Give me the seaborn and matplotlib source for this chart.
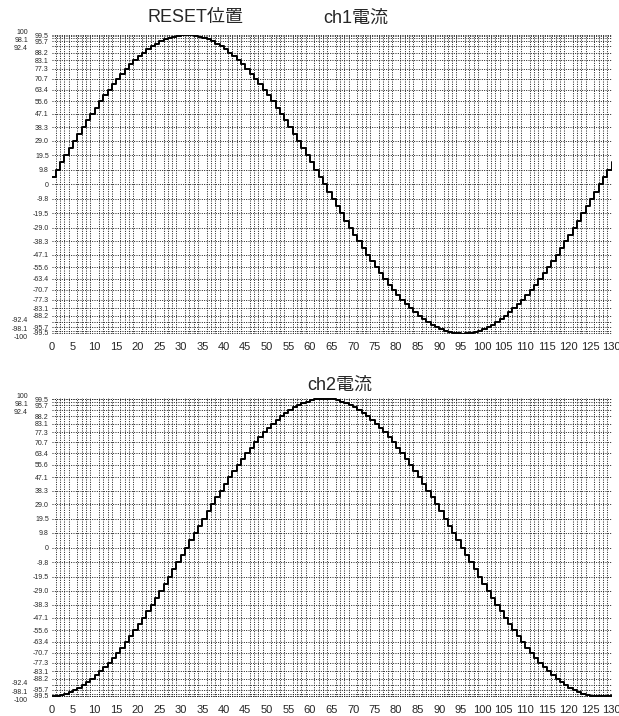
import numpy as np
import pandas as pd
import matplotlib
matplotlib.use("Agg")
import matplotlib.pyplot as plt
import matplotlib.transforms as mtransforms
import seaborn as sns

# ---- data (step value at each x, 0..130) ----
x_vals = list(range(0, 131))

ch1 = [4.9, 9.8, 14.7, 19.5, 24.3, 29.0, 33.7, 38.3, 42.8, 47.1, 51.4, 55.6, 59.6, 63.4, 67.2, 70.7,
       74.1, 77.3, 80.3, 83.1, 85.8, 88.2, 90.4, 92.4, 94.2, 95.7, 97.0, 98.1, 98.9, 99.5, 99.9, 100,
       99.9, 99.5, 98.9, 98.1, 97.0, 95.7, 94.2, 92.4, 90.4, 88.2, 85.8, 83.1, 80.3, 77.3, 74.1, 70.7,
       67.2, 63.4, 59.6, 55.6, 51.4, 47.1, 42.8, 38.3, 33.7, 29.0, 24.3, 19.5, 14.7, 9.8, 4.9, 0,
       -4.9, -9.8, -14.7, -19.5, -24.3, -29.0, -33.7, -38.3, -42.8, -47.1, -51.4, -55.6, -59.6, -63.4, -67.2, -70.7,
       -74.1, -77.3, -80.3, -83.1, -85.8, -88.2, -90.4, -92.4, -94.2, -95.7, -97.0, -98.1, -98.9, -99.5, -99.9, -100,
       -99.9, -99.5, -98.9, -98.1, -97.0, -95.7, -94.2, -92.4, -90.4, -88.2, -85.8, -83.1, -80.3, -77.3, -74.1, -70.7,
       -67.2, -63.4, -59.6, -55.6, -51.4, -47.1, -42.8, -38.3, -33.7, -29.0, -24.3, -19.5, -14.7, -9.8, -4.9, 0,
       4.9, 9.8, 14.7]

ch2 = [-99.9, -99.5, -98.9, -98.1, -97.0, -95.7, -94.2, -92.4, -90.4, -88.2, -85.8, -83.1, -80.3, -77.3, -74.1, -70.7,
       -67.2, -63.4, -59.6, -55.6, -51.4, -47.1, -42.8, -38.3, -33.7, -29.0, -24.3, -19.5, -14.7, -9.8, -4.9, 0,
       4.9, 9.8, 14.7, 19.5, 24.3, 29.0, 33.7, 38.3, 42.8, 47.1, 51.4, 55.6, 59.6, 63.4, 67.2, 70.7,
       74.1, 77.3, 80.3, 83.1, 85.8, 88.2, 90.4, 92.4, 94.2, 95.7, 97.0, 98.1, 98.9, 99.5, 99.9, 100,
       99.9, 99.5, 98.9, 98.1, 97.0, 95.7, 94.2, 92.4, 90.4, 88.2, 85.8, 83.1, 80.3, 77.3, 74.1, 70.7,
       67.2, 63.4, 59.6, 55.6, 51.4, 47.1, 42.8, 38.3, 33.7, 29.0, 24.3, 19.5, 14.7, 9.8, 4.9, 0,
       -4.9, -9.8, -14.7, -19.5, -24.3, -29.0, -33.7, -38.3, -42.8, -47.1, -51.4, -55.6, -59.6, -63.4, -67.2, -70.7,
       -74.1, -77.3, -80.3, -83.1, -85.8, -88.2, -90.4, -92.4, -94.2, -95.7, -97.0, -98.1, -98.9, -99.5, -99.9, -100,
       -99.9, -99.5, -98.9]

inner_ticks = [99.5, 95.7, 88.2, 83.1, 77.3, 70.7, 63.4, 55.6, 47.1, 38.3, 29.0, 19.5, 9.8, 0,
               -9.8, -19.5, -29.0, -38.3, -47.1, -55.6, -63.4, -70.7, -77.3, -83.1, -88.2, -95.7, -99.5]
inner_labels = ["99.5", "95.7", "88.2", "83.1", "77.3", "70.7", "63.4", "55.6", "47.1", "38.3", "29.0",
                "19.5", "9.8", "0", "-9.8", "-19.5", "-29.0", "-38.3", "-47.1", "-55.6", "-63.4",
                "-70.7", "-77.3", "-83.1", "-88.2", "-95.7", "-99.5"]
outer_ticks = [100, 98.1, 92.4, -92.4, -98.1, -100]
outer_labels = ["100", "98.1", "92.4", "-92.4", "-98.1", "-100"]
x_ticks = list(range(0, 131, 5))

title_left = "RESET位置"
title_ch1 = "ch1電流"
title_ch2 = "ch2電流"

# ---- style ----
sns.set_style("white")
plt.rcParams["font.family"] = ["Liberation Sans", "Noto Sans CJK JP", "DejaVu Sans"]
plt.rcParams["axes.unicode_minus"] = False

fig = plt.figure(figsize=(6.19, 7.16), dpi=100)
ax1 = fig.add_axes([0.0832, 0.5335, 0.9047, 0.4183])
ax2 = fig.add_axes([0.0832, 0.0268, 0.9047, 0.4170])

df1 = pd.DataFrame({"x": x_vals, "y": ch1})
df2 = pd.DataFrame({"x": x_vals, "y": ch2})

grid_kw = dict(color="#1a1a1a", linewidth=0.7, linestyle=(0, (1.0, 1.4)))

# small vertical nudges (points) so the crowded outer labels do not collide
outer_nudge = [2.5, -1.5, -1.0, 2.0, 1.5, -2.0]

for ax, df in ((ax1, df1), (ax2, df2)):
    sns.lineplot(data=df, x="x", y="y", ax=ax, color="black", linewidth=1.4,
                 drawstyle="steps-post", zorder=5)
    ax.set_xlim(0, 130)
    ax.set_ylim(-100.3, 100.3)
    ax.set_xlabel("")
    ax.set_ylabel("")
    ax.set_xticks(x_ticks)
    ax.set_xticks(x_vals, minor=True)
    ax.set_xticklabels([str(v) for v in x_ticks], fontsize=8)
    ax.set_yticks(inner_ticks)
    ax.set_yticklabels(inner_labels, fontsize=5)
    ax.set_yticks(outer_ticks, minor=True)
    ax.set_yticklabels(outer_labels, minor=True, fontsize=5)
    ax.tick_params(axis="y", which="major", length=0, pad=2)
    ax.tick_params(axis="y", which="minor", length=0, pad=17)
    ax.tick_params(axis="x", which="both", length=0, pad=6)
    for lab, dy in zip(ax.get_yticklabels(minor=True), outer_nudge):
        off = mtransforms.ScaledTranslation(0, dy / 72.0, fig.dpi_scale_trans)
        lab.set_transform(lab.get_transform() + off)
    ax.grid(False)
    ax.grid(True, which="both", axis="y", **grid_kw)
    ax.grid(True, which="minor", axis="x", **grid_kw)
    for s in ax.spines.values():
        s.set_visible(False)

fig.text(0.315, 0.975, title_left, fontsize=13, ha="center", va="center")
fig.text(0.574, 0.975, title_ch1, fontsize=13, ha="center", va="center")
fig.text(0.549, 0.462, title_ch2, fontsize=13, ha="center", va="center")

fig.savefig("out.png", dpi=100)
